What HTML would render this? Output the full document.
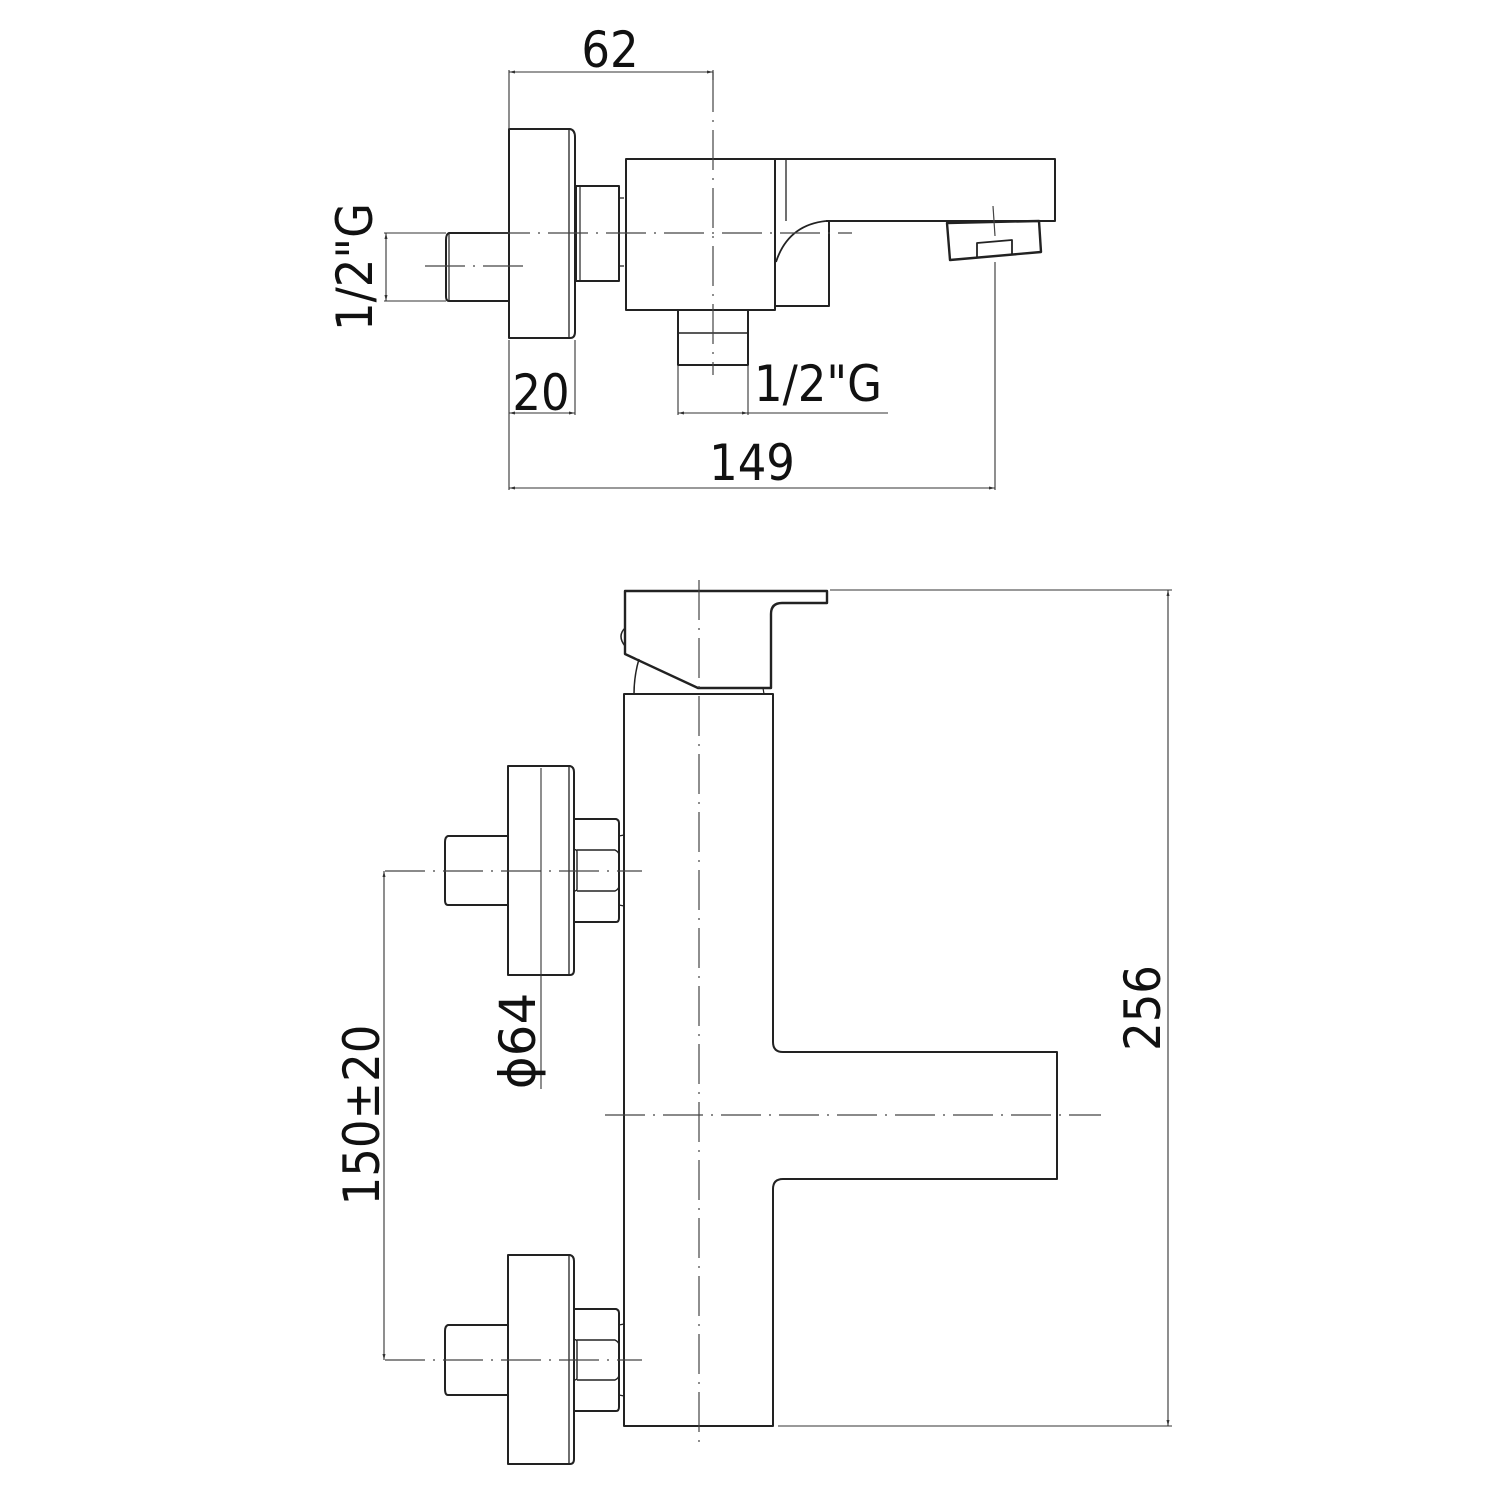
<!DOCTYPE html>
<html><head><meta charset="utf-8"><style>
html,body{margin:0;padding:0;background:#fff}
svg{display:block}
text{font-family:"DejaVu Sans Condensed","DejaVu Sans","Liberation Sans",sans-serif;fill:#111}
</style></head><body>
<svg width="1500" height="1500" viewBox="0 0 1500 1500" xmlns="http://www.w3.org/2000/svg">
<defs>
<marker id="a" markerWidth="6" markerHeight="6" refX="6" refY="3" orient="auto-start-reverse" markerUnits="userSpaceOnUse"><path d="M0,1.5 L6,3 L0,4.5z" fill="#333"/></marker>
</defs>
<g fill="none" stroke="#222" stroke-width="2" stroke-linejoin="round">
<!-- TOP VIEW -->
<path d="M509,129 H570 Q575,130 575,137 V332 Q575,338 570,338 H509 Z"/>
<line x1="569" y1="130" x2="569" y2="338" stroke-width="1.3"/>
<path d="M509,233 H449 Q446,234 446,240 V296 Q446,301 449,301 H509"/>
<line x1="449" y1="233" x2="449" y2="301" stroke-width="1.2"/>
<rect x="576" y="186" width="43" height="95"/>
<line x1="580" y1="186" x2="580" y2="281" stroke-width="1.2"/>
<path d="M619,198 H624 M619,266 H624" stroke-width="1.2"/>
<rect x="626" y="159" width="149" height="151"/>
<path d="M775,159 H1055 V221 H826"/>
<line x1="786" y1="159" x2="786" y2="221" stroke-width="1.3"/>
<path d="M826,221 Q788,225 776,262" stroke-width="1.8"/>
<path d="M775,306 H829 V222"/>
<path d="M947,223 L1039,221 L1041,252 L950,260 Z" stroke-width="2.4"/>
<path d="M977,257 V243 L1012,240 V254" stroke-width="1.8"/>
<rect x="678" y="310" width="70" height="55"/>
<line x1="678" y1="333" x2="748" y2="333" stroke-width="1.5"/>
<!-- SIDE VIEW -->
<path d="M625,591 H827 V603 H782 Q771,603 771,614 V688 H698 L625,654 Z" stroke-width="2.4"/>
<path d="M625,628 Q617,636 625,646" stroke-width="1.5"/>
<path d="M639,659 Q634,676 634,694" stroke-width="1.5"/>
<line x1="763" y1="688" x2="764" y2="694" stroke-width="1.2"/>
<path d="M624,694 H773 V1042 Q773,1052 783,1052 H1057 V1179 H783 Q773,1179 773,1189 V1426 H624 Z"/>
<!-- upper assembly -->
<path d="M508,766 H570 Q574,767 574,772 V970 Q574,975 570,975 H508 Z"/>
<line x1="569" y1="767" x2="569" y2="975" stroke-width="1.3"/>
<path d="M508,836 H448 Q445,837 445,842 V900 Q445,905 448,905 H508"/>
<path d="M574,819 H616 Q619,820 619,823 V918 Q619,922 616,922 H574"/>
<path d="M574,850 Q577,849 577,852 V889 Q577,891 574,891 M577,850 H615 Q619,852 619,855 M577,891 H615 Q619,889 619,886" stroke-width="1.4"/>
<path d="M619,836 L624,835 M619,905 L624,906" stroke-width="1.2"/>
<!-- lower assembly -->
<path d="M508,1255 H570 Q574,1256 574,1261 V1459 Q574,1464 570,1464 H508 Z"/>
<line x1="569" y1="1256" x2="569" y2="1464" stroke-width="1.3"/>
<path d="M508,1325 H448 Q445,1326 445,1331 V1389 Q445,1395 448,1395 H508"/>
<path d="M574,1309 H616 Q619,1310 619,1313 V1407 Q619,1411 616,1411 H574"/>
<path d="M574,1340 Q577,1339 577,1342 V1378 Q577,1380 574,1380 M577,1340 H615 Q619,1342 619,1345 M577,1380 H615 Q619,1378 619,1375" stroke-width="1.4"/>
<path d="M619,1325 L624,1324 M619,1395 L624,1396" stroke-width="1.2"/>
</g>
<!-- centerlines -->
<g stroke="#444" stroke-width="1.2" stroke-dasharray="40,8,2,8" fill="none">
<line x1="713" y1="72" x2="713" y2="375"/>
<line x1="490" y1="233" x2="852" y2="233"/>
<line x1="425" y1="266" x2="523" y2="266"/>
<line x1="993" y1="206" x2="995" y2="236"/>
<line x1="699" y1="580" x2="699" y2="1449"/>
<line x1="605" y1="1115" x2="1101" y2="1115"/>
<line x1="385" y1="871" x2="642" y2="871"/>
<line x1="385" y1="1360" x2="642" y2="1360"/>
</g>
<!-- dimension lines -->
<g stroke="#333" stroke-width="1.1" fill="none">
<line x1="509" y1="70" x2="509" y2="129"/>
<line x1="713" y1="70" x2="713" y2="80"/>
<line x1="509" y1="72" x2="713" y2="72" marker-start="url(#a)" marker-end="url(#a)"/>
<line x1="384" y1="233" x2="446" y2="233"/>
<line x1="384" y1="301" x2="446" y2="301"/>
<line x1="386" y1="233" x2="386" y2="301" marker-start="url(#a)" marker-end="url(#a)"/>
<line x1="509" y1="340" x2="509" y2="490"/>
<line x1="575" y1="340" x2="575" y2="415"/>
<line x1="509" y1="413" x2="575" y2="413" marker-start="url(#a)" marker-end="url(#a)"/>
<line x1="678" y1="366" x2="678" y2="415"/>
<line x1="748" y1="366" x2="748" y2="415"/>
<line x1="678" y1="413" x2="748" y2="413" marker-start="url(#a)" marker-end="url(#a)"/>
<line x1="748" y1="413" x2="888" y2="413"/>
<line x1="995" y1="262" x2="995" y2="490"/>
<line x1="509" y1="488" x2="995" y2="488" marker-start="url(#a)" marker-end="url(#a)"/>
<line x1="830" y1="590" x2="1172" y2="590"/>
<line x1="778" y1="1426" x2="1172" y2="1426"/>
<line x1="1168" y1="590" x2="1168" y2="1426" marker-start="url(#a)" marker-end="url(#a)"/>
<line x1="384" y1="871" x2="384" y2="1360" marker-start="url(#a)" marker-end="url(#a)"/>
<line x1="541" y1="768" x2="541" y2="1089"/>
</g>
<!-- labels -->
<g font-size="50">
<text x="610" y="67" text-anchor="middle">62</text>
<text x="541" y="410" text-anchor="middle">20</text>
<text x="754" y="401">1/2"G</text>
<text x="752" y="480" text-anchor="middle">149</text>
<text transform="translate(372,267) rotate(-90)" text-anchor="middle">1/2"G</text>
<text transform="translate(379,1115) rotate(-90)" text-anchor="middle">150±20</text>
<text transform="translate(535,1041) rotate(-90)" text-anchor="middle" style='font-family:"DejaVu Sans",sans-serif'>ϕ64</text>
<text transform="translate(1160,1008) rotate(-90)" text-anchor="middle">256</text>
</g>
</svg>
</body></html>
